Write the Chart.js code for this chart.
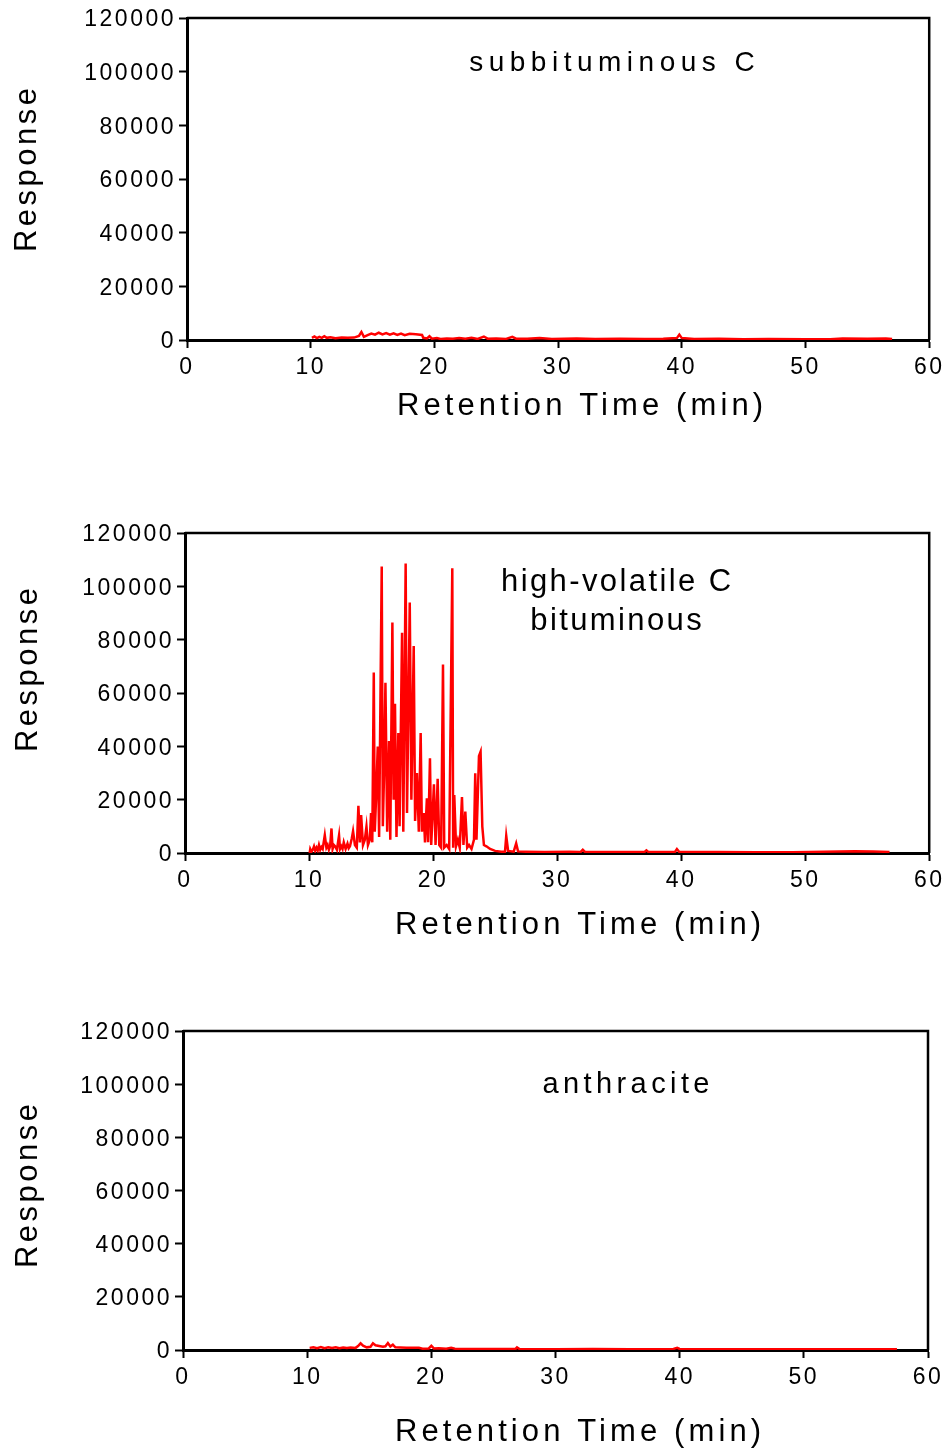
<!DOCTYPE html>
<html>
<head>
<meta charset="utf-8">
<script src="https://cdn.jsdelivr.net/npm/chart.js@4.4.1/dist/chart.umd.min.js"></script>
<style>
  body { margin: 0; background: #fff; width: 948px; height: 1449px; position: relative; overflow: hidden; }
  canvas { position: absolute; left: 0; }
</style>
</head>
<body>
<canvas id="c1" width="948" height="460" style="top:0px"></canvas>
<canvas id="c2" width="948" height="500" style="top:460px"></canvas>
<canvas id="c3" width="948" height="489" style="top:960px"></canvas>
<script>
// axis ticks
const xTicks = [0, 10, 20, 30, 40, 50, 60];
const yTicks = [0, 20000, 40000, 60000, 80000, 100000, 120000];

// subbituminous C
const subTime = [10.1, 10.3, 10.5, 10.7, 10.9, 11.1, 11.3, 11.6, 12.0, 12.5, 13.0, 13.5, 13.9, 14.1, 14.3, 14.6, 14.9, 15.2, 15.5, 15.8, 16.1, 16.4, 16.7, 17.0, 17.3, 17.6, 18.0, 18.5, 19.0, 19.1, 19.4, 19.6, 19.8, 20.2, 20.5, 21.0, 21.5, 22.0, 22.5, 23.0, 23.5, 24.0, 24.3, 25.0, 25.8, 26.3, 26.6, 27.5, 28.5, 29.5, 30.5, 31.5, 33.0, 35.0, 37.0, 38.5, 39.6, 39.8, 40.0, 41.0, 43.0, 45.0, 47.0, 50.0, 52.0, 53.0, 55.0, 56.5, 57.0];
const subResp = [800, 1300, 700, 1200, 800, 1400, 800, 1000, 700, 900, 800, 900, 1500, 3000, 1200, 1800, 2400, 2000, 2700, 2100, 2600, 2000, 2500, 1900, 2400, 1800, 2300, 2100, 1900, 800, 600, 1400, 500, 700, 400, 600, 500, 700, 500, 800, 400, 1300, 500, 600, 400, 1200, 500, 500, 700, 400, 500, 600, 400, 500, 400, 500, 700, 2000, 700, 400, 500, 300, 400, 300, 300, 600, 500, 600, 400];

// high-volatile C bituminous
const hvcTime = [10.05, 10.1, 10.2, 10.3, 10.4, 10.5, 10.6, 10.7, 10.8, 10.9, 11.0, 11.1, 11.27, 11.4, 11.5, 11.6, 11.7, 11.81, 11.9, 12.0, 12.1, 12.25, 12.42, 12.5, 12.6, 12.7, 12.8, 12.95, 13.1, 13.2, 13.3, 13.45, 13.55, 13.7, 13.85, 13.98, 14.1, 14.2, 14.35, 14.5, 14.63, 14.75, 14.9, 15.0, 15.1, 15.22, 15.3, 15.4, 15.54, 15.65, 15.86, 15.95, 16.05, 16.16, 16.3, 16.45, 16.55, 16.72, 16.82, 16.93, 17.05, 17.2, 17.3, 17.5, 17.6, 17.79, 17.9, 18.12, 18.25, 18.44, 18.55, 18.7, 18.85, 19.0, 19.1, 19.25, 19.35, 19.5, 19.6, 19.75, 19.85, 20.07, 20.2, 20.37, 20.5, 20.65, 20.8, 20.9, 21.1, 21.3, 21.55, 21.62, 21.71, 21.85, 22.0, 22.15, 22.33, 22.45, 22.6, 22.75, 22.9, 23.1, 23.3, 23.4, 23.5, 23.7, 23.83, 23.97, 24.1, 24.3, 24.6, 25.0, 25.5, 25.8, 25.9, 26.05, 26.5, 26.7, 26.85, 27.5, 29.0, 31.0, 31.9, 32.07, 32.25, 35.0, 37.05, 37.2, 37.35, 39.5, 39.66, 39.85, 43.0, 46.0, 49.0, 52.7, 54.0, 55.5, 56.8];
const hvcResp = [0, 1500, 500, 1200, 2500, 800, 2000, 1000, 3000, 1200, 2200, 1500, 6700, 2000, 3000, 1200, 2500, 9200, 1500, 3000, 2500, 1200, 6600, 1500, 2500, 1500, 4000, 1500, 3500, 1800, 2500, 5500, 8200, 3000, 2000, 17700, 4000, 14200, 3000, 5000, 9900, 3000, 5000, 15000, 4000, 67700, 8000, 20000, 39900, 6000, 107400, 10000, 30000, 63800, 8000, 42000, 5000, 86400, 20000, 56000, 6000, 45000, 10000, 82600, 8000, 108600, 15000, 93900, 20000, 77600, 12000, 30000, 8000, 45000, 8000, 15000, 4000, 20500, 4000, 35500, 3000, 25800, 3000, 27800, 3000, 2000, 70700, 2000, 3000, 1500, 106800, 2000, 21700, 2500, 5000, 2000, 21000, 3000, 15500, 2000, 3000, 1500, 5000, 29900, 5000, 36400, 38000, 9900, 3000, 2500, 1500, 800, 500, 500, 6400, 800, 500, 3600, 600, 500, 400, 500, 400, 1200, 400, 400, 400, 1000, 400, 400, 1500, 400, 400, 300, 300, 600, 700, 600, 400];

// anthracite
const antTime = [10.2, 10.5, 10.8, 11.1, 11.4, 11.7, 12.0, 12.3, 12.6, 12.9, 13.2, 13.5, 13.9, 14.1, 14.3, 14.5, 14.8, 15.1, 15.3, 15.5, 15.8, 16.1, 16.3, 16.5, 16.7, 16.9, 17.1, 17.5, 18.0, 19.0, 19.3, 19.8, 20.0, 20.2, 20.6, 21.2, 21.6, 21.9, 22.5, 24.0, 26.0, 26.8, 26.9, 27.1, 30.0, 33.0, 36.0, 39.5, 39.8, 40.0, 44.0, 48.0, 52.0, 56.0, 57.5];
const antResp = [800, 1000, 700, 1100, 700, 1000, 800, 1000, 700, 900, 800, 900, 800, 1500, 2500, 1600, 1000, 1200, 2500, 1800, 1500, 1200, 1400, 2600, 1300, 2000, 1000, 900, 800, 800, 500, 600, 1600, 600, 700, 500, 800, 500, 400, 400, 400, 500, 1000, 400, 300, 400, 300, 400, 800, 400, 300, 300, 300, 300, 300];

const family = '"Liberation Sans", Arial, sans-serif';

const textPlugin = {
    id: 'texts',
    beforeDraw(chart) {
        chart.ctx.letterSpacing = '2.5px';
    },
    afterDraw(chart, args, opts) {
        const ctx = chart.ctx, a = chart.chartArea;
        ctx.save();
        ctx.strokeStyle = '#000';
        ctx.lineWidth = 2.5;
        ctx.beginPath();
        ctx.moveTo(a.left, a.top);
        ctx.lineTo(a.right, a.top);
        ctx.lineTo(a.right, a.bottom);
        ctx.stroke();
        ctx.fillStyle = '#000';
        ctx.textAlign = 'center';
        ctx.textBaseline = 'middle';
        (opts.items || []).forEach(t => {
            ctx.font = t.size + 'px ' + family;
            ctx.letterSpacing = t.ls + 'px';
            ctx.save();
            ctx.translate(t.x, t.y);
            if (t.rot) ctx.rotate(-Math.PI / 2);
            ctx.fillText(t.text, t.ls / 2, 0);
            ctx.restore();
        });
        ctx.restore();
    }
};

function makeChart(id, times, resp, area, canvasTop, canvasH, items) {
    const local = items.map(t => Object.assign({}, t, { y: t.y - canvasTop }));
    return new Chart(document.getElementById(id), {
        type: 'line',
        data: {
            datasets: [{
                data: times.map((t, i) => ({ x: t, y: resp[i] })),
                borderColor: '#ff0000', borderWidth: 2.5, pointRadius: 0, tension: 0, fill: false
            }]
        },
        options: {
            responsive: false, animation: false, events: [],
            layout: { padding: { left: 0, right: 948 - area.right, top: area.top - canvasTop, bottom: canvasTop + canvasH - area.bottom - 40 } },
            plugins: { legend: { display: false }, tooltip: { enabled: false }, texts: { items: local } },
            scales: {
                x: {
                    type: 'linear', min: xTicks[0], max: xTicks[xTicks.length - 1],
                    afterBuildTicks: s => { s.ticks = xTicks.map(v => ({ value: v })); },
                    ticks: { color: '#000', font: { size: 23, family }, padding: 6, maxRotation: 0, autoSkip: false, callback: v => String(v) },
                    grid: { drawOnChartArea: false, drawTicks: true, tickLength: 8, tickWidth: 2, tickColor: '#000' },
                    border: { color: '#000', width: 3 },
                    afterFit: s => { s.height = 40; }
                },
                y: {
                    min: yTicks[0], max: yTicks[yTicks.length - 1],
                    afterBuildTicks: s => { s.ticks = yTicks.map(v => ({ value: v })); },
                    ticks: { color: '#000', font: { size: 23, family }, padding: 3, labelOffset: 2, autoSkip: false, callback: v => String(v) },
                    grid: { drawOnChartArea: false, drawTicks: true, tickLength: 8, tickWidth: 2, tickColor: '#000' },
                    border: { color: '#000', width: 3 },
                    afterFit: s => { s.width = area.left; }
                }
            }
        },
        plugins: [textPlugin]
    });
}

makeChart('c1', subTime, subResp, { left: 187, top: 18, right: 930, bottom: 340 }, 0, 460, [
    { text: 'Response', x: 27, y: 170, size: 31, ls: 3.5, rot: true },
    { text: 'Retention Time (min)', x: 580, y: 406, size: 31, ls: 4.1 },
    { text: 'subbituminous C', x: 612, y: 63, size: 28, ls: 5.5 }
]);
makeChart('c2', hvcTime, hvcResp, { left: 185, top: 533, right: 930, bottom: 853 }, 460, 500, [
    { text: 'Response', x: 28, y: 670, size: 31, ls: 3.5, rot: true },
    { text: 'Retention Time (min)', x: 578, y: 925, size: 31, ls: 4.1 },
    { text: 'high-volatile C', x: 616, y: 582, size: 31, ls: 2.4 },
    { text: 'bituminous', x: 616, y: 621, size: 31, ls: 2.4 }
]);
makeChart('c3', antTime, antResp, { left: 183, top: 1031, right: 928, bottom: 1350 }, 960, 489, [
    { text: 'Response', x: 28, y: 1186, size: 31, ls: 3.5, rot: true },
    { text: 'Retention Time (min)', x: 578, y: 1432, size: 31, ls: 4.1 },
    { text: 'anthracite', x: 626, y: 1085, size: 29, ls: 4.4 }
]);
</script>
</body>
</html>
